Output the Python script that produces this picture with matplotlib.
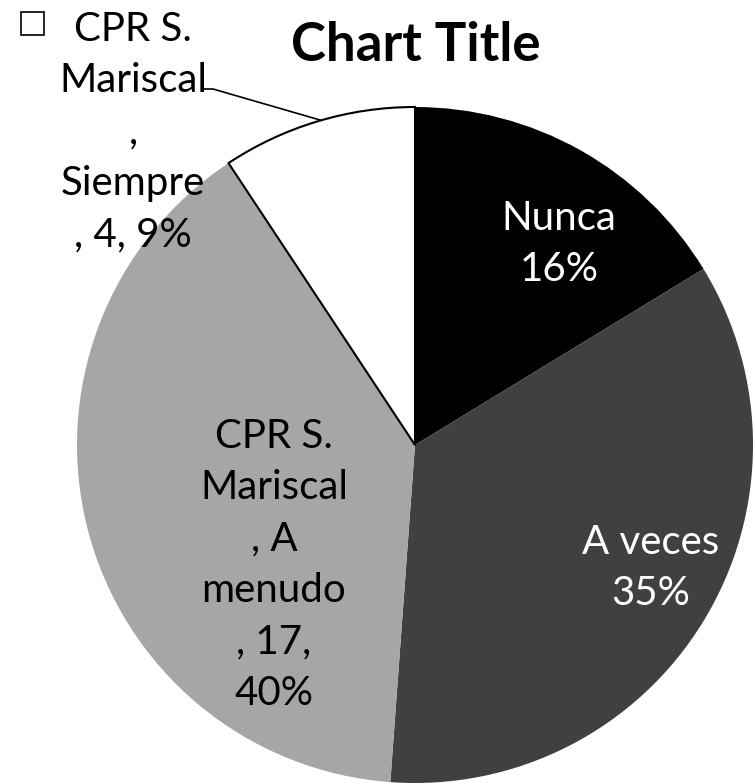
import matplotlib.pyplot as plt
from matplotlib.patches import Rectangle

# datos
series = "CPR S. Mariscal"
categories = ["Nunca", "A veces", "A menudo", "Siempre"]
counts = [7, 15, 17, 4]
percents = [16, 35, 40, 9]
colors = ["#000000", "#404040", "#a6a6a6", "#ffffff"]

plt.rcParams['font.family'] = ['Lato', 'DejaVu Sans']

W, H = 755, 784
fig = plt.figure(figsize=(W / 100, H / 100), dpi=100)
ax = fig.add_axes([0, 0, 1, 1])


def py(y):
    # pixel desde arriba -> coordenada de datos
    return H - y


wedges, _ = ax.pie(counts, colors=colors, startangle=90, counterclock=False,
                   center=(415, py(445)), radius=338, frame=True)
ax.set_xlim(0, W)
ax.set_ylim(0, H)
ax.set_aspect('equal')
ax.axis('off')
# solo el trozo blanco con borde
wedges[3].set_edgecolor('black')
wedges[3].set_linewidth(1.5)

fs = 29
ls = 1.48
ax.text(416, py(45), "Chart Title", ha='center', va='center', fontsize=38, fontweight='bold')

# etiquetas
ax.text(559, py(244), f"{categories[0]}\n{percents[0]}%", ha='center', va='center',
        fontsize=fs, color='white', linespacing=ls)
ax.text(651, py(568), f"{categories[1]}\n{percents[1]}%", ha='center', va='center',
        fontsize=fs, color='white', linespacing=ls)
ax.text(274, py(565), f"CPR S.\nMariscal\n, A\nmenudo\n, {counts[2]},\n{percents[2]}%",
        ha='center', va='center', fontsize=fs, color='black', linespacing=ls)
ax.text(133, py(132), f"CPR S.\nMariscal\n,\n{categories[3]}\n, {counts[3]}, {percents[3]}%",
        ha='center', va='center', fontsize=fs, color='black', linespacing=ls)
ax.add_patch(Rectangle((21, py(35)), 23, 23, facecolor='white', edgecolor='black', lw=1.2))

# linea guia
ax.plot([204, 213, 320], [py(89), py(89), py(120)], color='black', lw=1.2)

plt.savefig("out.png", dpi=100)
